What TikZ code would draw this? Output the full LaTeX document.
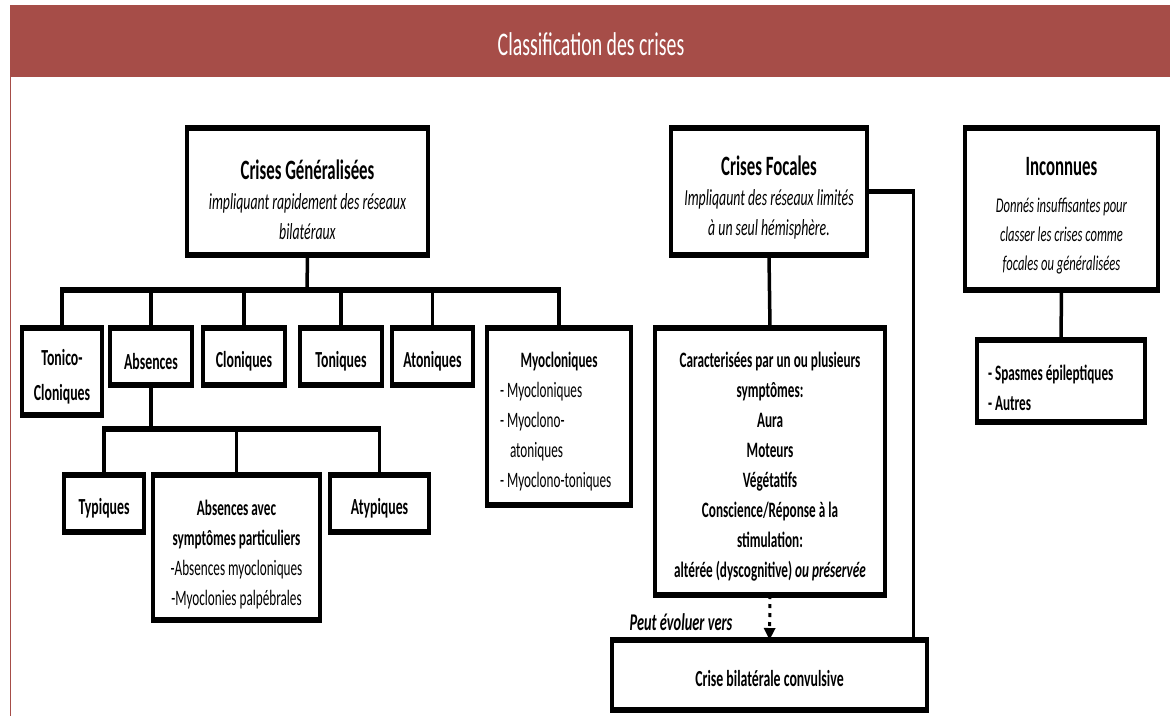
\documentclass[tikz,border=0pt]{standalone}
\usepackage{fontspec}
\setmainfont{Carlito}[FakeStretch=0.6]
\usetikzlibrary{arrows.meta}
\definecolor{hdr}{RGB}{166,77,72}
\newcommand\mytitle[1]{{\fontsize{28}{30}\selectfont\bfseries #1}}
\newcommand\myst[1]{\rule{0pt}{#1}}
\begin{document}
\begin{tikzpicture}[x=1pt,y=-1pt,
  bx/.style={draw, line width=3.5pt, inner sep=0pt, outer sep=0pt, align=center,
    font=\fontsize{23}{30}\selectfont},
  child/.style={bx, font=\fontsize{23}{35}\selectfont\bfseries},
  conn/.style={line width=3.5pt},
  busline/.style={line width=5.5pt, shorten <=-1.75pt, shorten >=-1.75pt},
]
\useasboundingbox (0,0) rectangle (1170,716);
% header
\fill[hdr] (10,5) rectangle (1170,77);
\draw[hdr, line width=1pt] (10.5,77) -- (10.5,716);
\node[text=white, font=\fontsize{33}{36}\selectfont] (title) at (591,44) {Classification des crises};

% generalised
\node[bx, minimum width=241pt, minimum height=127pt] (gen) at (307.5,191.5)
  {\myst{36pt}\mytitle{Crises Généralisées}\\ \textit{impliquant rapidement des réseaux}\\ \textit{bilatéraux}};
\node[child, minimum width=80pt, minimum height=87pt] (tc) at (62,371.5) {\myst{26pt}Tonico-\\Cloniques};
\node[child, minimum width=82pt, minimum height=57pt] (abs) at (151,356.5) {\myst{26pt}Absences};
\node[child, minimum width=82pt, minimum height=57pt] (clo) at (244,356.5) {\myst{26pt}Cloniques};
\node[child, minimum width=82pt, minimum height=57pt] (ton) at (341,356.5) {\myst{26pt}Toniques};
\node[child, minimum width=81pt, minimum height=57pt] (ato) at (432.5,356.5) {\myst{26pt}Atoniques};
\node[bx, minimum width=144pt, minimum height=177pt, text width=118pt, align=flush left,
  font=\fontsize{22}{30}\selectfont] (myo) at (559,416.5)
  {\myst{25pt}\makebox[118pt]{\bfseries Myocloniques}\\- Myocloniques\\- Myoclono-\\\hspace*{10pt}atoniques\\- Myoclono-toniques};

\node[child, minimum width=80pt, minimum height=57pt] (typ) at (104,503.5) {\myst{26pt}Typiques};
\node[bx, minimum width=167pt, minimum height=145pt, font=\fontsize{22}{30}\selectfont] (avec) at (236.5,547.5)
  {\myst{29pt}\textbf{Absences avec}\\ \textbf{symptômes particuliers}\\-Absences myocloniques\\-Myoclonies palpébrales};
\node[child, minimum width=99pt, minimum height=57pt] (aty) at (379.5,503.5) {\myst{26pt}Atypiques};

% focal
\node[bx, minimum width=196pt, minimum height=127pt] (foc) at (769,191.5)
  {\myst{31pt}\mytitle{Crises Focales}\\ \textit{Impliqaunt des réseaux limités}\\ \textit{à un seul hémisphère.}};
\node[bx, minimum width=230pt, minimum height=267pt, font=\fontsize{22}{30}\selectfont\bfseries] (car) at (770,461.5)
  {\myst{25pt}Caracterisées par un ou plusieurs\\symptômes:\\Aura\\Moteurs\\Végétatifs\\Conscience/Réponse à la\\stimulation:\\altérée (dyscognitive) \textit{ou préservée}};
\node[bx, minimum width=315pt, minimum height=70pt, font=\fontsize{23}{30}\selectfont\bfseries] (bil) at (769.5,675)
  {\myst{23pt}Crise bilatérale convulsive};
\node[font=\fontsize{24}{28}\selectfont\bfseries\itshape] (peut) at (681,622) {Peut évoluer vers};

% unknown
\node[bx, minimum width=193pt, minimum height=162pt, font=\fontsize{21}{29}\selectfont] (inc) at (1061.5,209)
  {\myst{31pt}\mytitle{Inconnues}\\[8pt] \textit{Donnés insuffisantes pour}\\ \textit{classer les crises comme}\\ \textit{focales ou généralisées}};
\node[bx, minimum width=168pt, minimum height=82pt, text width=146pt, align=flush left,
  font=\fontsize{22}{30}\selectfont\bfseries] (spa) at (1061,381)
  {\myst{30pt}- Spasmes épileptiques\\- Autres};

% thick top / bottom borders
\foreach \n in {gen,tc,abs,clo,ton,ato,myo,typ,avec,aty,foc,car,bil,inc,spa}{
  \draw[line width=6.5pt] ([xshift=-1.75pt]\n.north west) -- ([xshift=1.75pt]\n.north east);
  \draw[line width=6.5pt] ([xshift=-1.75pt]\n.south west) -- ([xshift=1.75pt]\n.south east);
}

% connectors: generalised tree
\coordinate (bG) at (307,290);
\draw[conn] (gen.south) -- (bG);
\draw[busline] (tc.north |- bG) -- (myo.north |- bG);
\foreach \n in {tc,abs,clo,ton,ato,myo}{\draw[conn] (\n.north) -- (\n.north |- bG);}

% absences subtree
\coordinate (bA) at (151,429);
\draw[conn] (abs.south) -- (bA);
\draw[busline] (typ.north |- bA) -- (aty.north |- bA);
\foreach \n in {typ,avec,aty}{\draw[conn] (\n.north) -- (\n.north |- bA);}

% focal
\draw[conn] (foc.south) -- (car.north);
\coordinate (fX) at (913,0);
\draw[line width=3pt] (foc.east -| fX) -- (fX |- bil.north);
\draw[line width=5pt, shorten >=-1.5pt] (foc.east) -- (foc.east -| fX);
\draw[line width=3pt, dash pattern=on 4pt off 5pt, -{Triangle[width=11pt,length=12pt]}] (car.south) -- (bil.north);

% unknown
\draw[conn] (inc.south) -- (spa.north);
\end{tikzpicture}
\end{document}
